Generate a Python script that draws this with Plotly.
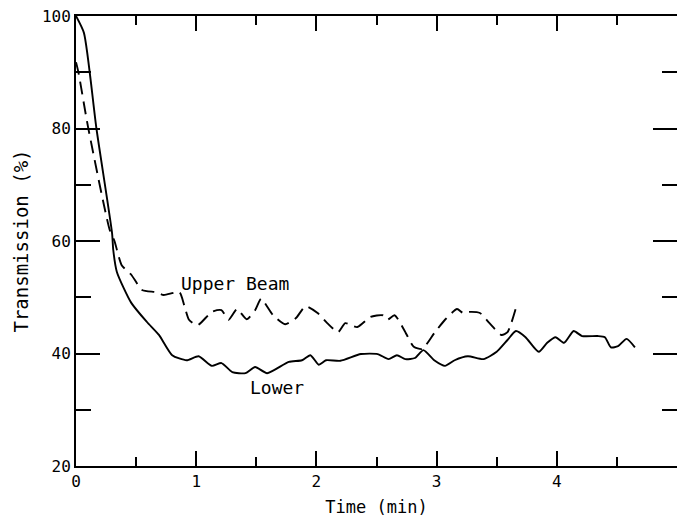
import plotly.graph_objects as go

lower_t = [0.0, 0.066, 0.17, 0.30, 0.31, 0.34, 0.46, 0.59, 0.69, 0.80, 0.92, 1.02, 1.13, 1.21, 1.30,
           1.41, 1.49, 1.59, 1.77, 1.88, 1.95, 2.02, 2.08, 2.2, 2.37, 2.51, 2.6, 2.67, 2.74, 2.82,
           2.89, 2.98, 3.07, 3.15, 3.26, 3.39, 3.5, 3.59, 3.66, 3.74, 3.85, 3.92, 3.99, 4.06, 4.14,
           4.21, 4.34, 4.4, 4.45, 4.51, 4.58, 4.65]
lower_v = [100, 97, 80, 61.4, 58.4, 54.5, 49, 45.6, 43.3, 39.7, 38.8, 39.5, 37.8, 38.3, 36.7,
           36.5, 37.6, 36.5, 38.5, 38.8, 39.7, 38, 38.8, 38.7, 39.9, 39.9, 39, 39.7, 39, 39.2,
           40.6, 38.8, 37.8, 38.8, 39.5, 39, 40.3, 42.4, 44, 42.9, 40.3, 41.9, 42.9, 41.9, 44,
           43.1, 43.1, 42.9, 41.1, 41.3, 42.6, 41.1]

upper_t = [0.0, 0.02, 0.1, 0.28, 0.32, 0.38, 0.46, 0.55, 0.67, 0.73, 0.86, 0.9, 0.94, 1.01, 1.13,
           1.21, 1.27, 1.34, 1.42, 1.49, 1.54, 1.64, 1.74, 1.83, 1.91, 2.01, 2.09, 2.18, 2.24,
           2.34, 2.45, 2.55, 2.59, 2.65, 2.73, 2.81, 2.88, 2.98, 3.07, 3.17, 3.22, 3.27, 3.36,
           3.44, 3.54, 3.59, 3.66]
upper_v = [91.8, 90, 80.3, 62, 60, 55.7, 54, 51.3, 50.9, 50.4, 50.9, 48.6, 46, 45, 47.4,
           47.7, 46, 47.9, 46.1, 47.7, 49.7, 46.8, 45.2, 46.3, 48.4, 47.2, 45.4, 43.8, 45.4,
           44.7, 46.5, 46.8, 46, 46.8, 44.2, 41.2, 40.8, 43.6, 46, 47.9, 47.2, 47.4, 47.2,
           45.4, 43.3, 43.8, 48.1]

x_ticks = [0, 1, 2, 3, 4, 5]
y_ticks = [20, 40, 60, 80, 100]

FONT = "DejaVu Sans Mono"

fig = go.Figure()
fig.add_trace(go.Scatter(x=lower_t, y=lower_v, mode="lines", name="Lower",
                         line=dict(color="black", width=1.9, shape="spline", smoothing=0.6)))
fig.add_trace(go.Scatter(x=upper_t, y=upper_v, mode="lines", name="Upper Beam",
                         line=dict(color="black", width=1.9, dash="13px,7px", shape="spline", smoothing=0.6)))

fig.add_annotation(x=1.32, y=52.5, text="Upper Beam", showarrow=False,
                   font=dict(family=FONT, size=18, color="black"))
fig.add_annotation(x=1.67, y=34, text="Lower", showarrow=False,
                   font=dict(family=FONT, size=18, color="black"))

fig.update_layout(
    width=677, height=519,
    margin=dict(l=76, r=0, t=16, b=53),
    paper_bgcolor="white", plot_bgcolor="white",
    showlegend=False,
    font=dict(family=FONT, size=16, color="black"),
    xaxis=dict(range=[0, 5], tickvals=x_ticks, ticktext=[str(v) for v in x_ticks],
               ticks="inside", ticklen=15, tickwidth=1.5, tickcolor="black",
               minor=dict(ticks="inside", dtick=0.5, ticklen=9, tickwidth=1.5, tickcolor="black"),
               showline=True, linecolor="black", linewidth=2, mirror="allticks",
               showgrid=False, zeroline=False, automargin=False,
               title=dict(text="Time (min)", font=dict(size=17), standoff=11),
               tickfont=dict(size=16)),
    yaxis=dict(range=[20, 100], tickvals=y_ticks, ticktext=[str(v) for v in y_ticks],
               ticks="inside", ticklen=24, tickwidth=1.5, tickcolor="black",
               minor=dict(ticks="inside", dtick=10, ticklen=15, tickwidth=1.5, tickcolor="black"),
               showline=True, linecolor="black", linewidth=2, mirror="allticks",
               showgrid=False, zeroline=False, automargin=False,
               title=dict(text="Transmission (%)", font=dict(size=19), standoff=8),
               tickfont=dict(size=16)),
)

fig.write_html("out.html")
